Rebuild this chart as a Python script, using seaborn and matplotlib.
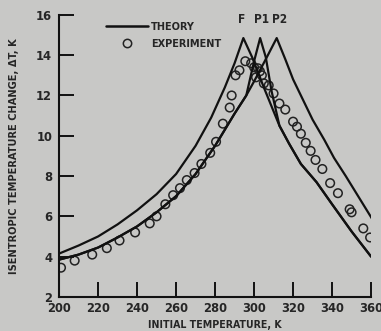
import matplotlib
matplotlib.use("Agg")
import matplotlib.pyplot as plt
import matplotlib.font_manager as fm
import seaborn as sns
import pandas as pd
from matplotlib.lines import Line2D

# ---- data ----
F_T = [200, 210, 220, 230, 240, 250, 260, 270, 278, 285, 290, 294.5,
       299, 305, 313, 318, 324, 332, 340, 350, 360]
F_dT = [4.15, 4.55, 5.0, 5.6, 6.3, 7.1, 8.1, 9.5, 10.9, 12.4, 13.6, 14.85,
        13.9, 12.4, 10.5, 9.6, 8.6, 7.7, 6.6, 5.25, 4.0]

P1_T = [200, 210, 220, 230, 240, 250, 260, 270, 280, 290, 296, 300, 303.1,
        306, 309, 313, 318, 324, 332, 340, 350, 360]
P1_dT = [3.85, 4.1, 4.45, 4.95, 5.5, 6.2, 7.0, 8.1, 9.5, 11.1, 12.0, 13.7, 14.85,
         13.9, 12.2, 10.5, 9.6, 8.6, 7.7, 6.6, 5.25, 4.0]

P2_T = [200, 210, 220, 230, 240, 250, 260, 270, 280, 290, 296, 300, 306, 311.6,
        316, 320, 325, 330, 336, 341, 347, 354, 361]
P2_dT = [3.85, 4.1, 4.45, 4.95, 5.5, 6.2, 7.0, 8.1, 9.5, 11.1, 12.0, 12.7, 13.8, 14.85,
         13.8, 12.8, 11.8, 10.8, 9.8, 8.9, 8.0, 6.9, 5.8]

exp_T = [201, 208, 217, 224.5, 231, 239, 246.5, 250, 254.5, 258.5, 262, 265.5,
         269.5, 273, 277.5, 280.5, 284, 287.5, 288.5, 290.5, 292.5, 295.5, 298.5,
         300, 301, 302, 303, 304, 305, 307.5, 310, 313, 316, 320, 322, 324, 326.5,
         329, 331.5, 335, 339, 343, 349, 350, 356, 359.5]
exp_dT = [3.45, 3.8, 4.1, 4.42, 4.8, 5.2, 5.65, 6.0, 6.6, 7.05, 7.4, 7.8,
          8.15, 8.6, 9.15, 9.7, 10.6, 11.4, 12.0, 13.0, 13.25, 13.7, 13.6,
          13.4, 12.9, 13.35, 13.2, 13.0, 12.6, 12.5, 12.1, 11.6, 11.3, 10.7, 10.45, 10.1, 9.65,
          9.25, 8.8, 8.35, 7.65, 7.15, 6.35, 6.2, 5.4, 4.95]

x_ticks = [200, 220, 240, 260, 280, 300, 320, 340, 360]
y_ticks = [2, 4, 6, 8, 10, 12, 14, 16]
peak_labels = ["F", "P1", "P2"]
peak_T = [293.8, 303.6, 313.0]

BG = "#c8c8c6"
sns.set_theme(style="ticks")

names = {f.name for f in fm.fontManager.ttflist}
if "Liberation Sans Narrow" in names:
    FONT = ["Liberation Sans Narrow", "DejaVu Sans"]
    STRETCH = "normal"
else:
    FONT = ["DejaVu Sans"]
    STRETCH = "condensed"
plt.rcParams["font.family"] = FONT
plt.rcParams["font.weight"] = "bold"
plt.rcParams["font.stretch"] = STRETCH

fig = plt.figure(figsize=(3.81, 3.31), dpi=100, facecolor=BG)
ax = fig.add_axes([0.155, 0.103, 0.819, 0.852])
ax.set_facecolor(BG)

theory = pd.concat([
    pd.DataFrame({"T": F_T, "dT": F_dT, "curve": "F"}),
    pd.DataFrame({"T": P1_T, "dT": P1_dT, "curve": "P1"}),
    pd.DataFrame({"T": P2_T, "dT": P2_dT, "curve": "P2"}),
])
exp = pd.DataFrame({"T": exp_T, "dT": exp_dT})

sns.lineplot(data=theory, x="T", y="dT", units="curve", estimator=None, sort=False,
             color="#111111", linewidth=1.6, ax=ax, legend=False)
sns.scatterplot(data=exp, x="T", y="dT", marker="o", s=38, facecolors="none",
                edgecolor="#222222", linewidth=1.1, ax=ax, legend=False)

ax.set_xlim(200, 360)
ax.set_ylim(2, 16)
ax.set_xticks(x_ticks)
ax.set_yticks(y_ticks)
ax.set_xticklabels([str(v) for v in x_ticks], fontsize=9.3, fontweight="bold")
ax.set_yticklabels([str(v) for v in y_ticks], fontsize=9.3, fontweight="bold")
ax.tick_params(direction="in", length=11, width=1.4, color="#111111", pad=5)
ax.tick_params(axis="x", pad=4)
for s in ["top", "right"]:
    ax.spines[s].set_visible(False)
for s in ["left", "bottom"]:
    ax.spines[s].set_linewidth(1.5)
    ax.spines[s].set_color("#111111")

ax.set_xlabel("INITIAL TEMPERATURE, K", fontsize=7.6, fontweight="bold", labelpad=3)
ax.set_ylabel("ISENTROPIC TEMPERATURE CHANGE, ΔT, K", fontsize=7.9,
              fontweight="bold", labelpad=12)

for lab, t in zip(peak_labels, peak_T):
    ax.text(t, 15.75, lab, ha="center", va="center", fontsize=8.5, fontweight="bold")

handles = [Line2D([], [], color="#111111", lw=1.8),
           Line2D([], [], color="#222222", marker="o", ls="none", mfc="none",
                  mew=1.1, ms=6)]
ax.legend(handles, ["THEORY", "EXPERIMENT"], loc="center left",
          bbox_to_anchor=(0.151, 0.927), frameon=False, borderpad=0, borderaxespad=0,
          handlelength=3.9, handletextpad=0.25, labelspacing=0.6,
          prop={"weight": "bold", "size": 7.8, "family": FONT, "stretch": STRETCH})

fig.savefig("out.png", dpi=100, facecolor=BG)
